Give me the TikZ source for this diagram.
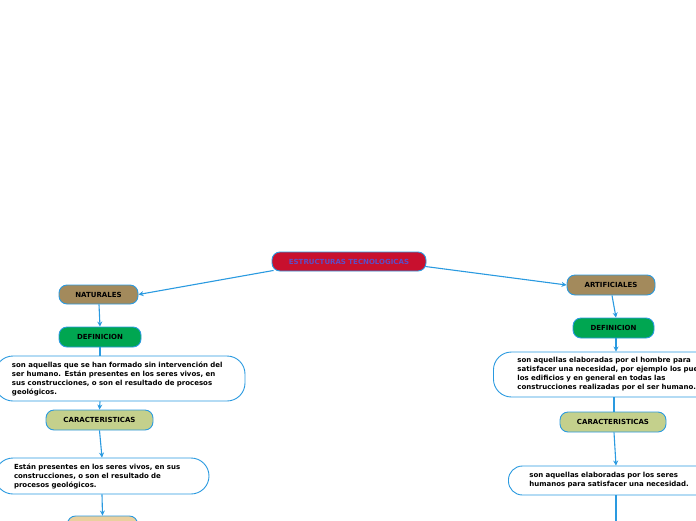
\documentclass[tikz,border=0pt]{standalone}
\usepackage{fontspec}
\setmainfont{DejaVu Sans}
\usetikzlibrary{arrows.meta}
\definecolor{lineblue}{HTML}{2A9AE0}
\definecolor{rootred}{HTML}{C8102E}
\definecolor{roottext}{HTML}{5B4FC8}
\definecolor{brownfill}{HTML}{A38A5C}
\definecolor{greenfill}{HTML}{00A651}
\definecolor{olivefill}{HTML}{C4D08C}
\definecolor{tanfill}{HTML}{EAD09E}
\tikzset{
  box/.style={draw=lineblue, line width=0.9pt, rounded corners=8pt, font=\fontsize{7}{9}\bfseries\selectfont, inner sep=0pt, align=center},
  txtbox/.style={draw=lineblue, line width=0.9pt, fill=white, rounded corners=18pt, font=\fontsize{7}{9}\bfseries\selectfont, align=left, inner ysep=0pt},
  conn/.style={draw=lineblue, line width=1.1pt},
  arr/.style={conn, -{Stealth[length=5pt,width=5pt]}}
}
\begin{document}
\begin{tikzpicture}[x=1pt,y=-1pt]
\useasboundingbox (0,0) rectangle (696,520);
\node[box, fill=rootred, text=roottext, minimum width=154pt, minimum height=19pt] (root) at (349,261.5) {ESTRUCTURAS TECNOLOGICAS};
% left branch
\node[box, fill=brownfill, minimum width=79pt, minimum height=19pt] (nat) at (98.5,294.5) {NATURALES};
\node[box, fill=greenfill, minimum width=82pt, minimum height=20pt] (defl) at (100,337) {DEFINICION};
\node[txtbox, text width=216pt, inner xsep=17pt, minimum height=45pt] (txl) at (120,378.5) {son aquellas que se han formado sin intervención del\\ser humano. Están presentes en los seres vivos, en\\sus construcciones, o son el resultado de procesos\\geológicos.};
\node[box, fill=olivefill, minimum width=107pt, minimum height=20pt] (carl) at (99.5,420) {CARACTERISTICAS};
\node[txtbox, text width=176pt, inner xsep=19pt, minimum height=36pt] (txl2) at (102,476) {Están presentes en los seres vivos, en sus\\construcciones, o son el resultado de\\procesos geológicos.};
\node[box, fill=tanfill, minimum width=70pt, minimum height=20pt] (botl) at (102.5,526) {};
% right branch
\node[box, fill=brownfill, minimum width=88pt, minimum height=20pt] (art) at (611,285) {ARTIFICIALES};
\node[box, fill=greenfill, minimum width=81pt, minimum height=20pt] (defr) at (613.5,328) {DEFINICION};
\node[txtbox, text width=236pt, inner xsep=24pt, minimum height=45pt, anchor=west] (txr) at (493,374.5) {son aquellas elaboradas por el hombre para\\satisfacer una necesidad, por ejemplo los puentes,\\los edificios y en general en todas las\\construcciones realizadas por el ser humano.};
\node[box, fill=olivefill, minimum width=106pt, minimum height=20pt] (carr) at (613,422) {CARACTERISTICAS};
\node[txtbox, rounded corners=14pt, text width=190pt, inner xsep=21pt, minimum height=29pt, anchor=west] (txr2) at (508,480.5) {son aquellas elaboradas por los seres\\humanos para satisfacer una necesidad.};
\coordinate (endr) at (616,530);
% connectors
\draw[arr] (root.south west) ++(2,-1) coordinate (r1) -- (nat.east);
\draw[arr] (root.east) ++(-1,5) coordinate (r2) -- (art.west);
\draw[arr] ([xshift=0.5pt]nat.south) -- (defl.north);
\draw[conn] (defl.south) -- (defl.south |- txl.north);
\draw[arr] (defl.south |- txl.south) -- (carl.north);
\draw[arr] (carl.south) -- ([xshift=2.5pt]carl.south |- txl2.north);
\draw[arr] (txl2.south) -- (botl.north);
\draw[arr] ([xshift=1pt]art.south) -- ([xshift=2.5pt]defr.north);
\draw[arr] ([xshift=2.5pt]defr.south) -- ([xshift=2.5pt]defr.south |- txr.north);
\draw[conn] ([xshift=1pt]carr.north |- txr.south) -- ([xshift=1pt]carr.north);
\draw[arr] ([xshift=1pt]carr.south) -- ([xshift=3pt]carr.south |- txr2.north);
\draw[conn] ([xshift=3pt]carr.south |- txr2.south) -- (endr);
\end{tikzpicture}
\end{document}
